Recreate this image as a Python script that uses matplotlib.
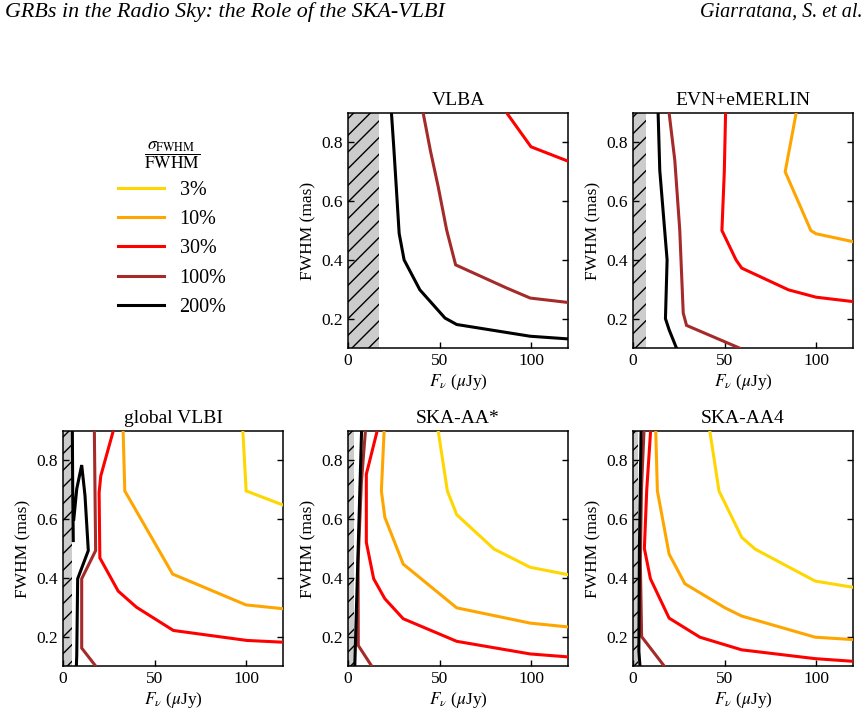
import matplotlib

matplotlib.use("Agg")
import matplotlib.pyplot as plt
import numpy as np
from matplotlib.lines import Line2D

plt.rcParams["font.family"] = ["Liberation Serif", "DejaVu Serif"]
plt.rcParams["mathtext.fontset"] = "stix"
plt.rcParams["hatch.linewidth"] = 1.0

nan = np.nan

levels = ["3%", "10%", "30%", "100%", "200%"]
level_colors = ["gold", "orange", "red", "brown", "black"]

panel_titles = ["VLBA", "EVN+eMERLIN", "global VLBI", "SKA-AA*", "SKA-AA4"]
# flux below which the array is blind (hatched band), uJy
flux_limits = [17.0, 6.9, 4.9, 3.3, 2.7]

# contour paths per level: (flux uJy, FWHM mas); NaN splits a path
vlba = {
    "30%": ([86.6, 99.8, 120], [0.9, 0.785, 0.736]),
    "100%": ([41.0, 45.0, 49.2, 53.8, 58.7, 86.6, 99.4, 120],
             [0.9, 0.77, 0.649, 0.502, 0.383, 0.304, 0.27, 0.255]),
    "200%": ([23.7, 25.0, 26.1, 27.9, 30.6, 39.2, 52.9, 59.3, 99.4, 120],
             [0.9, 0.78, 0.671, 0.49, 0.4, 0.298, 0.202, 0.18, 0.14, 0.131]),
}
evn = {
    "10%": ([89.0, 83.0, 97.0, 99.8, 120], [0.9, 0.7, 0.5, 0.489, 0.462]),
    "30%": ([50.5, 49.8, 48.5, 56.2, 59.3, 84.8, 99.8, 120],
            [0.9, 0.7, 0.5, 0.4, 0.372, 0.298, 0.273, 0.258]),
    "100%": ([19.7, 22.8, 25.5, 27.4, 29.2, 58.0],
             [0.9, 0.739, 0.502, 0.219, 0.177, 0.1]),
    "200%": ([13.7, 14.6, 18.6, 17.7, 19.7, 23.7],
             [0.9, 0.705, 0.4, 0.2, 0.162, 0.1]),
}
global_vlbi = {
    "3%": ([98.1, 99.9, 120], [0.9, 0.696, 0.648]),
    "10%": ([32.8, 33.7, 59.8, 99.8, 120], [0.9, 0.696, 0.413, 0.308, 0.295]),
    "30%": ([27.4, 20.6, 19.7, 20.1, 30.1, 40.1, 60.2, 100.3, 120],
            [0.9, 0.747, 0.69, 0.468, 0.355, 0.3, 0.221, 0.187, 0.181]),
    "100%": ([17.1, 17.8, 10.2, 10.2, 17.8], [0.9, 0.493, 0.397, 0.161, 0.1]),
    "200%": ([5.1, 5.3, 5.6, nan, 5.9, 7.5, 10.2, 12.0, 13.8, 8.0, 7.5, 7.3],
             [0.9, 0.7, 0.527, nan, 0.6, 0.703, 0.784, 0.68, 0.493, 0.397, 0.137, 0.1]),
}
ska_aastar = {
    "3%": ([49.2, 54.2, 59.3, 79.7, 99.4, 120], [0.9, 0.696, 0.615, 0.498, 0.436, 0.411]),
    "10%": ([19.7, 18.2, 20.1, 30.1, 59.3, 99.4, 120],
            [0.9, 0.696, 0.606, 0.447, 0.298, 0.246, 0.233]),
    "30%": ([15.9, 10.0, 10.0, 14.0, 20.1, 30.1, 59.3, 99.4, 120],
            [0.9, 0.753, 0.521, 0.397, 0.329, 0.261, 0.184, 0.141, 0.131]),
    "100%": ([9.5, 7.3, 5.5, 5.6, 12.9], [0.9, 0.725, 0.453, 0.17, 0.1]),
    "200%": ([7.4, 3.7], [0.9, 0.1]),
}
ska_aa4 = {
    "3%": ([41.9, 46.9, 59.3, 66.6, 99.4, 120], [0.9, 0.696, 0.538, 0.498, 0.389, 0.368]),
    "10%": ([12.4, 13.3, 19.7, 28.3, 50.2, 59.3, 99.4, 120],
            [0.9, 0.696, 0.481, 0.38, 0.298, 0.27, 0.198, 0.19]),
    "30%": ([9.6, 7.5, 6.2, 9.5, 19.7, 36.5, 59.3, 99.4, 120],
            [0.9, 0.7, 0.5, 0.397, 0.263, 0.198, 0.155, 0.125, 0.116]),
    "100%": ([6.0, 4.6, 4.0, 4.7, 17.0], [0.9, 0.7, 0.453, 0.2, 0.1]),
    "200%": ([4.4, 3.5, 3.2, 3.8], [0.9, 0.5, 0.15, 0.1]),
}
panels = [vlba, evn, global_vlbi, ska_aastar, ska_aa4]

# axes placement (left, bottom) in figure fraction
W, H = 220 / 867, 235 / 714
slots = [(348 / 867, 1 - 348 / 714), (633 / 867, 1 - 348 / 714),
         (63 / 867, 1 - 666 / 714), (348 / 867, 1 - 666 / 714), (633 / 867, 1 - 666 / 714)]

fig = plt.figure(figsize=(8.67, 7.14), dpi=100)

for (x0, y0), title, lim, data in zip(slots, panel_titles, flux_limits, panels):
    ax = fig.add_axes([x0, y0, W, H])
    ax.axvspan(0, lim, facecolor="#cccccc", edgecolor="k", hatch="//", lw=0, zorder=1)
    for lev, col in zip(levels, level_colors):
        if lev in data:
            xs, ys = data[lev]
            ax.plot(xs, ys, color=col, lw=2.2, solid_joinstyle="miter", zorder=3)
    ax.set_xlim(0, 120)
    ax.set_ylim(0.1, 0.9)
    ax.set_xticks([0, 50, 100])
    ax.set_yticks([0.2, 0.4, 0.6, 0.8])
    ax.tick_params(direction="in", length=4, width=1, right=True, top=False, labelsize=12.5)
    for s in ax.spines.values():
        s.set_linewidth(1.1)
    ax.set_title(title, fontsize=14, pad=6)
    ax.set_xlabel(r"$F_\nu$ ($\mu$Jy)", fontsize=12.5, labelpad=2)
    ax.set_ylabel("FWHM (mas)", fontsize=12.5, labelpad=4)

handles = [Line2D([], [], color=c, lw=2.2) for c in level_colors]
fig.legend(handles, levels, loc="upper left", bbox_to_anchor=(100 / 867, 1 - 121 / 714),
           frameon=False, fontsize=14.5, title=r"$\dfrac{\sigma_{\rm FWHM}}{\rm FWHM}$",
           title_fontsize=12.5, handlelength=2.3, handletextpad=0.75, labelspacing=0.5)

fig.text(5 / 867, 1 - 12 / 714, "GRBs in the Radio Sky: the Role of the SKA-VLBI",
         style="italic", fontsize=15.8, ha="left", va="center")
fig.text(862 / 867, 1 - 12 / 714, "Giarratana, S. et al.",
         style="italic", fontsize=14.5, ha="right", va="center")

fig.savefig("out.png", dpi=100)
